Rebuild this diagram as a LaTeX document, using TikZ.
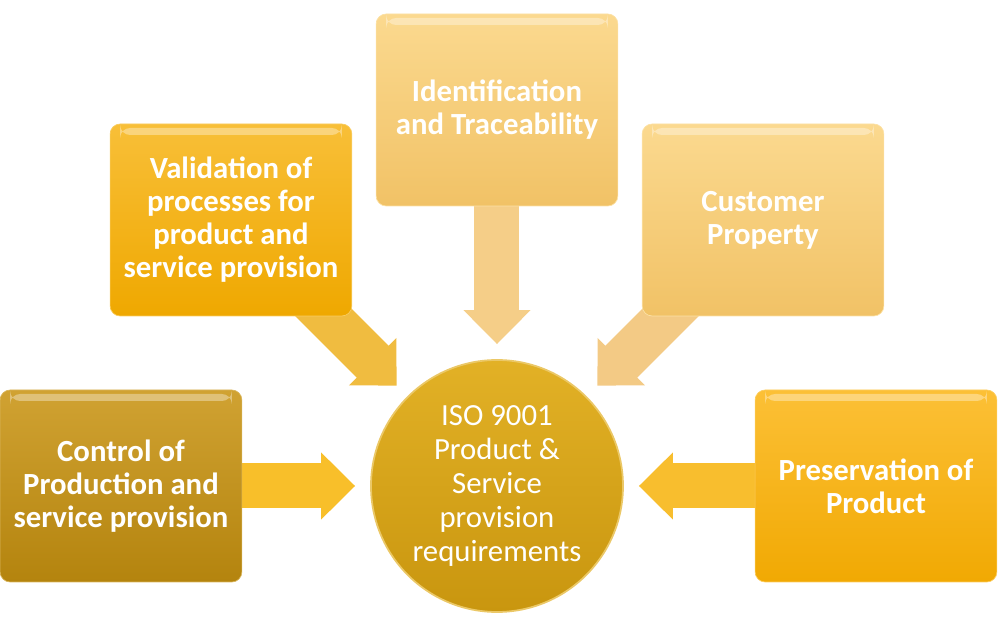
\documentclass[tikz,border=0pt]{standalone}
\usepackage{fontspec}
\setmainfont{Carlito}
\usetikzlibrary{arrows.meta,positioning,backgrounds}

\definecolor{ctrlTop}{HTML}{D0A232}
\definecolor{ctrlBot}{HTML}{B4840E}
\definecolor{valTop}{HTML}{F8BF38}
\definecolor{valBot}{HTML}{EFA800}
\definecolor{idTop}{HTML}{FBD98F}
\definecolor{idBot}{HTML}{F1C266}
\definecolor{presTop}{HTML}{FCC036}
\definecolor{presBot}{HTML}{F1A903}
\definecolor{hubTop}{HTML}{E2B126}
\definecolor{hubBot}{HTML}{C9960F}

\tikzset{
  box/.style={rectangle, rounded corners=0.2cm, minimum width=4.76cm,
    minimum height=3.84cm, text width=4.6cm, align=flush center, text=white,
    font=\fontsize{17.5}{18.8}\selectfont\bfseries,
    path picture={\fill[white,opacity=0.35]
      ([xshift=0.2cm,yshift=-0.08cm]path picture bounding box.north west) rectangle
      ([xshift=-0.2cm,yshift=-0.22cm]path picture bounding box.north east);}},
  hub/.style={circle, minimum size=5.04cm, inner sep=0pt, align=flush center,
    text=white, font=\fontsize{17.5}{19.3}\selectfont,
    top color=hubTop, bottom color=hubBot, draw=hubTop!70!white, line width=1pt},
  flow/.style={line width=0.9cm, -{Triangle[length=0.68cm,width=1.3cm]},
    shorten >=0.3cm}
}

\begin{document}
\begin{tikzpicture}
  \useasboundingbox (-9.94,-2.84) rectangle (10.06,9.72);

  \node[hub] (iso) {ISO 9001\\Product \&\\Service\\provision\\requirements};
  \node[box, left of=iso, xshift=-6.52cm, top color=ctrlTop, bottom color=ctrlBot,
    draw=ctrlTop!80!white] (ctrl) {Control of\\Production and\\service provision};
  \node[box, above left of=iso, xshift=-4.613cm, yshift=4.613cm, top color=valTop,
    bottom color=valBot, draw=valTop!80!white] (val)
    {Validation of\\processes for\\product and\\service provision};
  \node[box, above of=iso, yshift=6.52cm, top color=idTop, bottom color=idBot,
    draw=idTop!80!white] (ident) {Identification\\and Traceability};
  \node[box, above right of=iso, xshift=4.613cm, yshift=4.613cm, top color=idTop,
    bottom color=idBot, draw=idTop!80!white] (cust) {Customer\\Property};
  \node[box, right of=iso, xshift=6.58cm, top color=presTop, bottom color=presBot,
    draw=presTop!80!white] (pres) {Preservation of\\Product};

  \begin{scope}[on background layer]
    \draw[flow, draw={rgb,255:red,248;green,191;blue,42}] (ctrl.center) -- (iso);
    \draw[flow, draw={rgb,255:red,240;green,188;blue,64}] (val.center) -- (iso);
    \draw[flow, draw={rgb,255:red,245;green,206;blue,136}] (ident.center) -- (iso);
    \draw[flow, draw={rgb,255:red,243;green,202;blue,133}] (cust.center) -- (iso);
    \draw[flow, draw={rgb,255:red,248;green,190;blue,46}] (pres.center) -- (iso);
  \end{scope}
\end{tikzpicture}
\end{document}
